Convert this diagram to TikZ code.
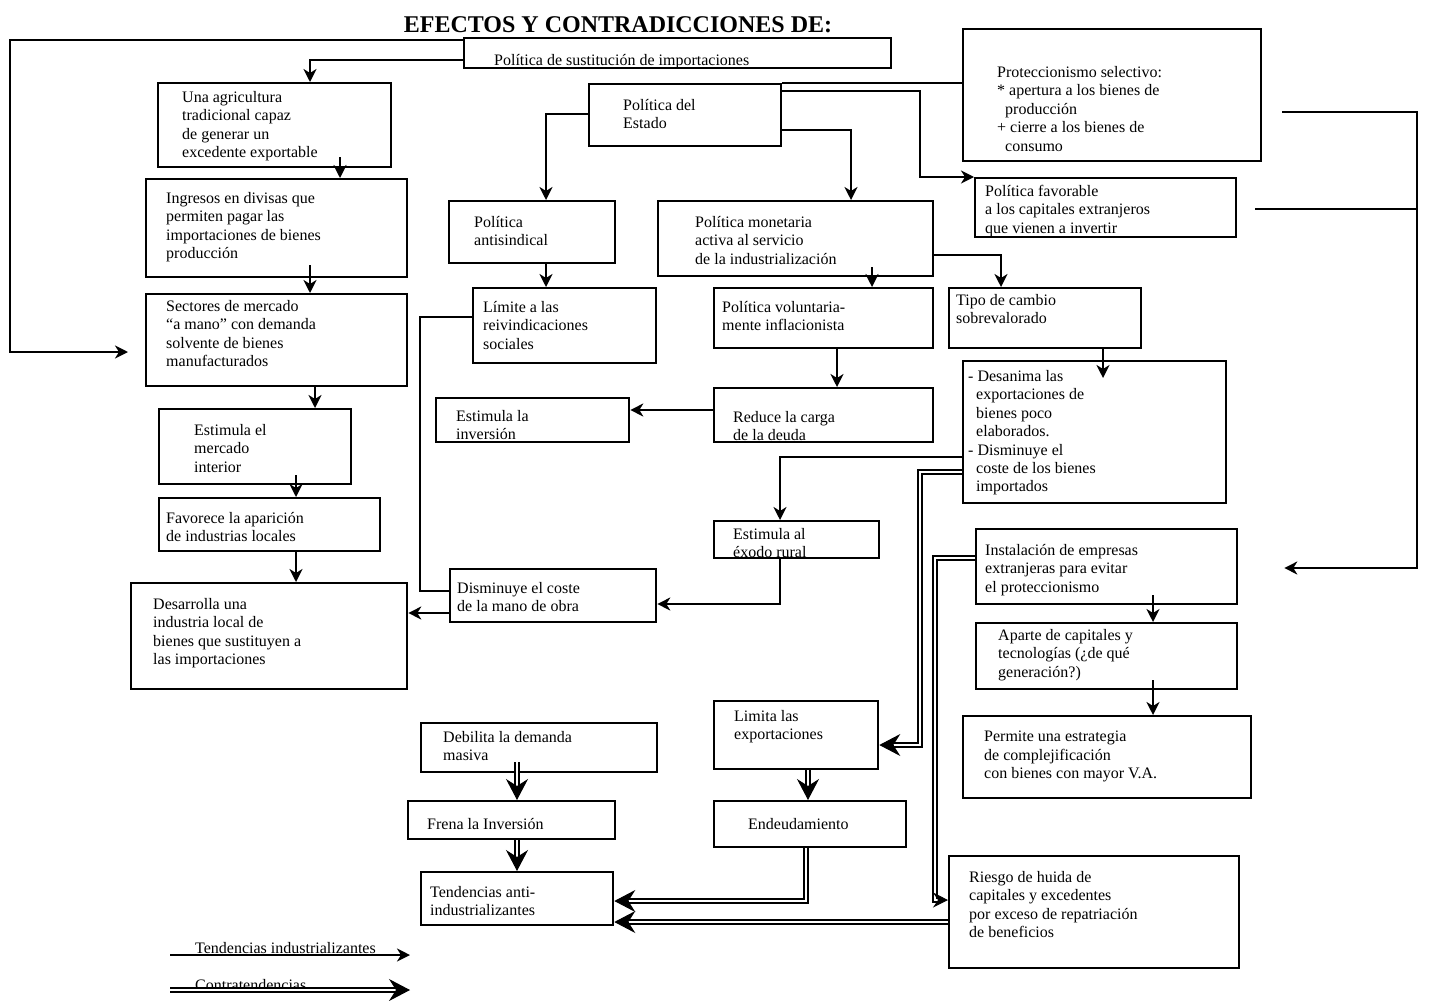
\documentclass[tikz,border=0pt]{standalone}
\usepackage{fontspec}
\setmainfont{Liberation Serif}
\usetikzlibrary{arrows.meta}

\tikzset{
  box/.style={draw, line width=2.3pt, inner sep=0pt, anchor=north west},
  txt/.style={anchor=north west, inner sep=0pt, align=left, yshift=9.88pt,
              execute at begin node=\strut},
  conn/.style={line width=2pt},
  arr/.style={conn, -{Stealth[length=13pt,width=13pt,inset=4pt]}},
  dbl/.style={double, line width=1.5pt, double distance=2.6pt, shorten >=11pt},
  dtip/.style={line width=1pt, -{Stealth[length=21pt,width=22pt,inset=7pt]}},
  stip/.style={line width=1pt, -{Stealth[length=15pt,width=15pt,inset=5pt]}},
}

% box with its text: name, x1, y1, x2, y2, text x, first baseline, text
\newcommand{\panel}[8]{%
  \node[box, minimum width={(#4)-(#2)}, minimum height={(#5)-(#3)}] (#1) at (#2,#3) {};
  \node[txt] (#1-t) at (#6,#7) {#8};
}

\begin{document}
\begin{tikzpicture}[x=1pt, y=-1pt, font=\fontsize{16}{18.4}\selectfont]
\path[use as bounding box] (0,0) rectangle (1432,1001);

\node[font=\fontsize{24}{28}\selectfont\bfseries, anchor=base, inner sep=0pt] (title) at (618,32) {EFECTOS Y CONTRADICCIONES DE:};

% left column
\panel{sust}{463}{37}{890}{67}{494}{62}{Política de sustitución de importaciones}
\panel{agri}{157}{82}{390}{166}{182}{101}{Una agricultura\\tradicional capaz\\de generar un\\excedente exportable}
\panel{ingr}{145}{178}{406}{276}{166}{202}{Ingresos en divisas que\\permiten pagar las\\importaciones de bienes\\producción}
\panel{sect}{145}{293}{406}{385}{166}{310}{Sectores de mercado\\“a mano” con demanda\\solvente de bienes\\manufacturados}
\panel{merc}{158}{408}{350}{483}{194}{434}{Estimula el\\mercado\\interior}
\panel{fav}{158}{497}{379}{550}{166}{522}{Favorece la aparición\\de industrias locales}
\panel{desa}{130}{582}{406}{688}{153}{608}{Desarrolla una\\industria local de\\bienes que sustituyen a\\las importaciones}

% state policy branch
\panel{estado}{588}{83}{780}{145}{623}{109}{Política del\\Estado}
\panel{prot}{962}{28}{1260}{160}{997}{76}{Proteccionismo selectivo:\\* apertura a los bienes de\\\hspace*{8pt}producción\\+ cierre a los bienes de\\\hspace*{8pt}consumo}
\panel{favo}{974}{177}{1235}{236}{985}{195}{Política favorable\\a los capitales extranjeros\\que vienen a invertir}
\panel{anti}{448}{200}{614}{262}{474}{226}{Política\\antisindical}
\panel{mone}{657}{200}{932}{275}{695}{226}{Política monetaria\\activa al servicio\\de la industrialización}
\panel{limi}{472}{287}{655}{362}{483}{311}{Límite a las\\reivindicaciones\\sociales}
\panel{volu}{713}{287}{932}{347}{722}{311}{Política voluntaria-\\mente inflacionista}
\panel{tipo}{948}{287}{1140}{347}{956}{304}{Tipo de cambio\\sobrevalorado}
\panel{desan}{962}{360}{1225}{502}{968}{380}{- Desanima las\\\hspace*{8pt}exportaciones de\\\hspace*{8pt}bienes poco\\\hspace*{8pt}elaborados.\\- Disminuye el\\\hspace*{8pt}coste de los bienes\\\hspace*{8pt}importados}
\panel{esti}{435}{397}{628}{441}{456}{420}{Estimula la\\inversión}
\panel{redu}{713}{387}{932}{441}{733}{421}{Reduce la carga\\de la deuda}
\panel{exodo}{713}{520}{878}{557}{733}{538}{Estimula al\\éxodo rural}
\panel{dism}{449}{568}{655}{621}{457}{592}{Disminuye el coste\\de la mano de obra}
\panel{inst}{975}{528}{1236}{603}{985}{554}{Instalación de empresas\\extranjeras para evitar\\el proteccionismo}
\panel{apar}{975}{622}{1236}{688}{998}{639}{Aparte de capitales y\\tecnologías (¿de qué\\generación?)}
\panel{perm}{962}{715}{1250}{797}{984}{741}{Permite una estrategia\\de complejificación\\con bienes con mayor V.A.}

% counter-tendencies
\panel{debi}{420}{722}{656}{771}{443}{741}{Debilita la demanda\\masiva}
\panel{limt}{713}{700}{877}{768}{734}{720}{Limita las\\exportaciones}
\panel{frena}{407}{800}{614}{838}{427}{826}{Frena la Inversión}
\panel{endeu}{713}{800}{905}{846}{748}{826}{Endeudamiento}
\panel{tend}{420}{871}{612}{924}{430}{896}{Tendencias anti-\\industrializantes}
\panel{ries}{948}{855}{1238}{967}{969}{881}{Riesgo de huida de\\capitales y excedentes\\por exceso de repatriación\\de beneficios}

% industrialising tendencies (single arrows)
\draw[arr, shorten >=17pt] (sust.west |- 0,40) -- (10,40) -- (10,352) -- (sect.west |- 0,352);
\draw[arr] (sust.west |- 0,60) -| (agri.north -| 310,0);
\draw[arr, shorten <=-11pt] (agri.south -| 340,0) -- (ingr.north -| 340,0);
\draw[arr, shorten <=-13pt] (ingr.south -| 310,0) -- (sect.north -| 310,0);
\draw[arr] (sect.south -| 315,0) -- (merc.north -| 315,0);
\draw[arr, shorten <=-10pt] (merc.south -| 296,0) -- (fav.north -| 296,0);
\draw[arr] (fav.south -| 296,0) -- (desa.north -| 296,0);

\draw[arr] (estado.west |- 0,114) -| (anti.north -| 546,0);
\draw[arr] (estado.east |- 0,130) -| (mone.north -| 851,0);
\draw[conn] (estado.north east) -- (prot.west |- 0,83);
\draw[arr] (estado.east |- 0,91) -- (920,91) -- (920,177) -- (favo.north west);
\draw[arr, shorten <=-10pt] (mone.south -| 872,0) -- (volu.north -| 872,0);
\draw[arr] (mone.east |- 0,255) -| (tipo.north -| 1001,0);
\draw[arr] (anti.south -| 546,0) -- (limi.north -| 546,0);
\draw[arr] (volu.south -| 837,0) -- (redu.north -| 837,0);
\draw[arr] (redu.west |- 0,410) -- (esti.east |- 0,410);
\draw[arr, shorten >=-18pt] (tipo.south -| 1103,0) -- (desan.north -| 1103,0);
\draw[arr] (desan.west |- 0,457) -| (exodo.north -| 780,0);
\draw[arr] (exodo.south -| 780,0) |- (dism.east |- 0,604);
\draw[arr] (dism.west |- 0,613) -- (desa.east |- 0,613);
\draw[conn] (limi.west |- 0,317) -- (420,317) -- (420,591) -- (dism.west |- 0,591);

\draw[arr, shorten <=20pt, shorten >=46pt] (prot.east |- 0,112) -- (1417,112) -- (1417,568) -- (inst.east |- 0,568);
\draw[conn, shorten <=18pt] (favo.east |- 0,209) -- (1417,209);
\draw[arr, shorten <=-10pt] (inst.south -| 1153,0) -- (apar.north -| 1153,0);
\draw[arr, shorten <=-10pt] (apar.south -| 1153,0) -- (perm.north -| 1153,0);

% counter-tendencies (double lines, each closed by a large tip)
\draw[dbl] (desan.west |- 0,472) -- (920,472) |- (limt.east |- 0,745);
\draw[dtip] (limt.east |- 0,745) ++(14,0) -- (limt.east |- 0,745);
\draw[dbl, shorten >=8pt] (inst.west |- 0,558) -- (935,558) |- (ries.west |- 0,900);
\draw[stip] (ries.west |- 0,900) ++(-10,0) -- (ries.west |- 0,900);
\draw[dbl, shorten <=-11pt] (debi.south -| 517,0) -- (frena.north -| 517,0);
\draw[dtip] (frena.north -| 517,0) ++(0,-14) -- (frena.north -| 517,0);
\draw[dbl] (frena.south -| 517,0) -- (tend.north -| 517,0);
\draw[dtip] (tend.north -| 517,0) ++(0,-14) -- (tend.north -| 517,0);
\draw[dbl] (limt.south -| 808,0) -- (endeu.north -| 808,0);
\draw[dtip] (endeu.north -| 808,0) ++(0,-14) -- (endeu.north -| 808,0);
\draw[dbl] (endeu.south -| 806,0) |- (tend.east |- 0,901);
\draw[dtip] (tend.east |- 0,901) ++(14,0) -- (tend.east |- 0,901);
\draw[dbl] (ries.west |- 0,922) -- (tend.east |- 0,922);
\draw[dtip] (tend.east |- 0,922) ++(14,0) -- (tend.east |- 0,922);

% legend
\node[txt] (leg1) at (195,950) {Tendencias industrializantes};
\coordinate (leg1a) at (170,955);
\coordinate (leg1b) at (410,955);
\draw[arr] (leg1a) -- (leg1b);
\node[txt] (leg2) at (195,987) {Contratendencias};
\coordinate (leg2a) at (170,990);
\coordinate (leg2b) at (410,990);
\draw[dbl] (leg2a) -- (leg2b);
\draw[dtip] (leg2b) ++(-14,0) -- (leg2b);
\end{tikzpicture}
\end{document}
